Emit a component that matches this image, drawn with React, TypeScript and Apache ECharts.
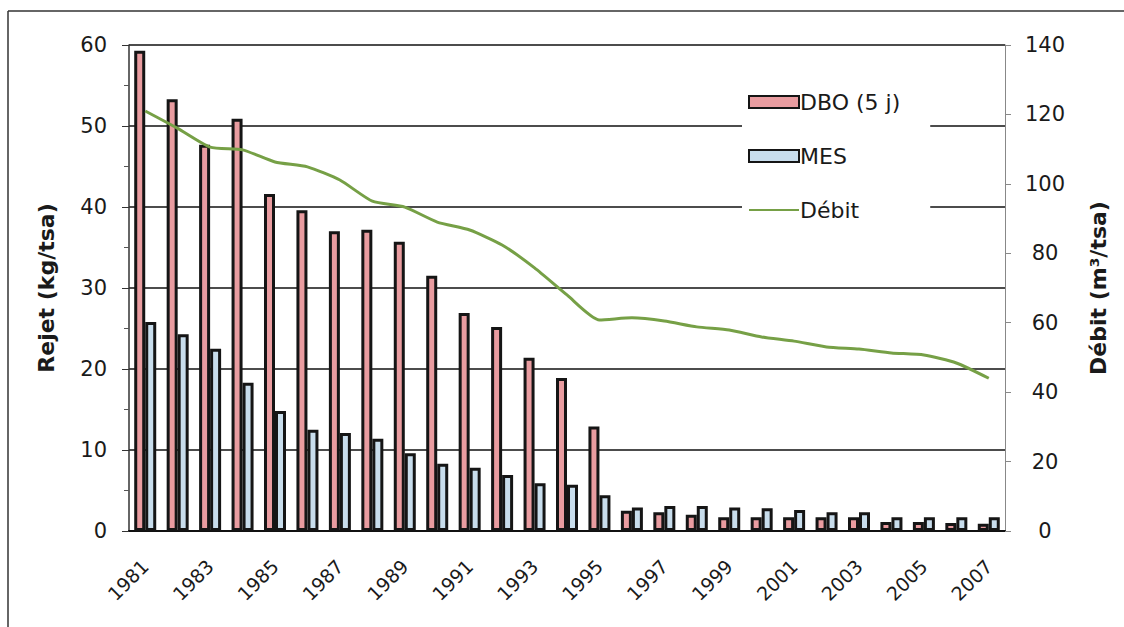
import React, { useEffect, useRef } from "react";
import * as echarts from "echarts";

const years = ["1981","1982","1983","1984","1985","1986","1987","1988","1989","1990","1991","1992","1993","1994","1995","1996","1997","1998","1999","2000","2001","2002","2003","2004","2005","2006","2007"];
const dbo = [59.3,53.3,47.7,50.9,41.6,39.6,37.0,37.2,35.7,31.5,26.9,25.2,21.4,18.9,12.9,2.5,2.3,2.0,1.7,1.7,1.7,1.7,1.7,1.1,1.1,1.0,0.9];
const mes = [25.8,24.3,22.5,18.3,14.8,12.5,12.1,11.4,9.6,8.3,7.8,6.9,5.9,5.7,4.4,2.9,3.1,3.1,2.9,2.8,2.6,2.3,2.3,1.7,1.7,1.7,1.7];
const debit = [121,116,110.6,109.8,106.3,104.9,101.1,95,93.3,89,86.7,82.4,75.8,68,60.8,61.4,60.5,58.8,57.9,55.9,54.7,53,52.4,51.3,50.7,48.4,44];
const seriesNames = ["DBO (5 j)", "MES", "Débit"];

export default function App() {
  const ref = useRef<HTMLDivElement>(null);
  useEffect(() => {
    const chart = echarts.init(ref.current!, null, { renderer: "svg" });
    const font = "DejaVu Sans, Arial, sans-serif";
    chart.setOption({
      animation: false,
      backgroundColor: "#ffffff",
      textStyle: { fontFamily: font },
      graphic: [
        { type: "line", shape: { x1: 8, y1: 11, x2: 1124, y2: 11 }, style: { stroke: "#333", lineWidth: 1.5 } },
        { type: "line", shape: { x1: 8, y1: 11, x2: 8, y2: 627 }, style: { stroke: "#333", lineWidth: 1.5 } },
      ],
      grid: { left: 129, right: 119, top: 45, bottom: 96, containLabel: false },
      legend: {
        orient: "vertical",
        left: 742,
        top: 82,
        itemGap: 30,
        itemWidth: 50,
        itemHeight: 12,
        padding: [8, 30, 8, 6],
        backgroundColor: "#ffffff",
        textStyle: { fontSize: 22, lineHeight: 24, color: "#1a1a1a", fontFamily: font, padding: [0, 0, 0, -4] },
        data: [
          { name: seriesNames[0], icon: "rect" },
          { name: seriesNames[1], icon: "rect" },
          { name: seriesNames[2], itemStyle: { opacity: 0 } },
        ],
      },
      xAxis: {
        type: "category",
        data: years,
        axisLine: { lineStyle: { color: "#111", width: 2 } },
        axisTick: { show: false },
        axisLabel: { interval: 1, rotate: 45, fontSize: 19, color: "#1a1a1a", margin: 32, fontFamily: font },
      },
      yAxis: [
        {
          type: "value",
          min: 0,
          max: 60,
          interval: 10,
          name: "Rejet (kg/tsa)",
          nameLocation: "middle",
          nameGap: 72,
          nameTextStyle: { fontSize: 22, fontWeight: "bold", color: "#1a1a1a", fontFamily: font },
          axisLine: { show: true, lineStyle: { color: "#333", width: 1.5 } },
          axisTick: { show: true, length: 7, lineStyle: { color: "#333" } },
          minorTick: { show: true, splitNumber: 2, length: 5, lineStyle: { color: "#555" } },
          axisLabel: { fontSize: 21, color: "#1a1a1a", margin: 22, fontFamily: font },
          splitLine: { show: true, lineStyle: { color: "#111", width: 1.5 } },
        },
        {
          type: "value",
          min: 0,
          max: 140,
          interval: 20,
          name: "Débit (m³/tsa)",
          nameLocation: "middle",
          nameGap: 82,
          nameRotate: 90,
          nameTextStyle: { fontSize: 22, fontWeight: "bold", color: "#1a1a1a", fontFamily: font },
          axisLine: { show: true, lineStyle: { color: "#888", width: 1 } },
          axisTick: { show: true, length: 6, lineStyle: { color: "#888" } },
          axisLabel: { fontSize: 21, color: "#1a1a1a", margin: 40, align: "center", fontFamily: font },
          splitLine: { show: false },
        },
      ],
      series: [
        {
          name: seriesNames[0],
          type: "bar",
          data: dbo,
          barWidth: 11,
          barGap: "0%",
          itemStyle: { color: "#e99ca0", borderColor: "#151515", borderWidth: 3 },
        },
        {
          name: seriesNames[1],
          type: "bar",
          data: mes,
          barWidth: 11,
          barGap: "0%",
          itemStyle: { color: "#c8ddec", borderColor: "#151515", borderWidth: 3 },
        },
        {
          name: seriesNames[2],
          type: "line",
          yAxisIndex: 1,
          data: debit,
          symbol: "none",
          smooth: 0.2,
          lineStyle: { color: "#76a046", width: 3 },
          itemStyle: { color: "#76a046" },
          z: 5,
        },
      ],
    });
    return () => chart.dispose();
  }, []);
  return <div ref={ref} style={{ width: 1124, height: 627, position: "absolute", left: 0, top: 0 }} />;
}
